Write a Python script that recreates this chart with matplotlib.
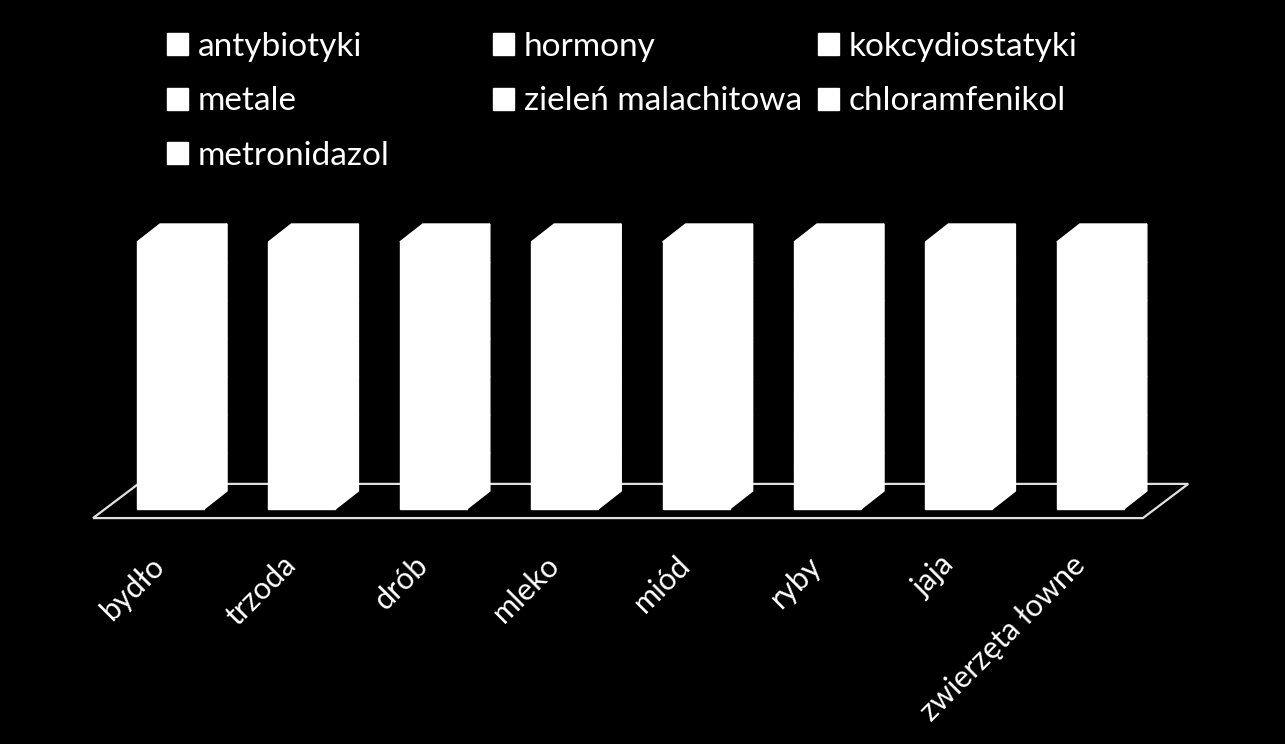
import matplotlib
matplotlib.use("Agg")
import matplotlib.pyplot as plt
import matplotlib.transforms as mtransforms
from matplotlib.patches import Polygon, Patch

categories = ["bydło", "trzoda", "drób", "mleko", "miód", "ryby", "jaja", "zwierzęta łowne"]
series_names = ["antybiotyki", "hormony", "kokcydiostatyki", "metale",
                "zieleń malachitowa", "chloramfenikol", "metronidazol"]
antybiotyki = [1, 1, 1, 1, 1, 1, 1, 1]
hormony = [1, 1, 1, 1, 1, 1, 1, 1]
kokcydiostatyki = [1, 1, 1, 1, 1, 1, 1, 1]
metale = [1, 1, 1, 1, 1, 1, 1, 1]
zielen_malachitowa = [1, 1, 1, 1, 1, 1, 1, 1]
chloramfenikol = [1, 1, 1, 1, 1, 1, 1, 1]
metronidazol = [1, 1, 1, 1, 1, 1, 1, 1]
series_values = [antybiotyki, hormony, kokcydiostatyki, metale,
                 zielen_malachitowa, chloramfenikol, metronidazol]
colors = ["#ffffff"] * 7

FONT = "Lato"
FS = 24
fig = plt.figure(figsize=(12.85, 7.44), dpi=100, facecolor="black")
ax = fig.add_axes([0.05603, 0.27280, 0.8794, 0.4450])
ax.set_facecolor("black")
ax.set_xlim(-0.75, 7.85)
ax.set_ylim(-0.12, 1.12)

n = len(categories)
xs = list(range(n))
totals = [sum(s[i] for s in series_values) for i in range(n)]

width = 0.51
ddx, ddy = 0.175, 0.0674

# floor
fl_x0, fl_x1, fl_y = -0.59, 7.40, -0.034
fdx, fdy = 0.345, 0.128
floor = Polygon([(fl_x0, fl_y), (fl_x1, fl_y), (fl_x1 + fdx, fl_y + fdy), (fl_x0 + fdx, fl_y + fdy)],
                closed=True, facecolor="black", edgecolor="#e0e0e0", lw=1.6, zorder=1)
ax.add_patch(floor)

bottoms = [0.0] * n
for k, (vals, col) in enumerate(zip(series_values, colors)):
    fr = [v / t for v, t in zip(vals, totals)]
    bars = ax.bar(xs, fr, width=width, bottom=bottoms, color=col, edgecolor=col, lw=1.0, zorder=3)
    for i, b in enumerate(bars):
        x0 = b.get_x(); x1 = x0 + b.get_width()
        y0 = b.get_y(); y1 = y0 + b.get_height()
        side = Polygon([(x1, y0), (x1 + ddx, y0 + ddy), (x1 + ddx, y1 + ddy), (x1, y1)],
                       closed=True, facecolor=col, edgecolor=col, lw=1.0, zorder=3)
        ax.add_patch(side)
        if k == len(series_values) - 1:
            top = Polygon([(x0, y1), (x0 + ddx, y1 + ddy), (x1 + ddx, y1 + ddy), (x1, y1)],
                          closed=True, facecolor=col, edgecolor=col, lw=1.0, zorder=3)
            ax.add_patch(top)
    bottoms = [b + f for b, f in zip(bottoms, fr)]

for s in ax.spines.values():
    s.set_visible(False)
ax.set_yticks([])
ax.set_xticks(xs)
ax.set_xticklabels(categories, rotation=45, ha="right", va="top", rotation_mode="anchor",
                   color="white", fontsize=22, fontfamily=FONT)
ax.tick_params(axis="x", length=0, pad=7)
off = mtransforms.ScaledTranslation(-20 / 100, 0, fig.dpi_scale_trans)
for lab in ax.get_xticklabels():
    lab.set_transform(lab.get_transform() + off)

# legend: three columns, row-wise order
handles = [Patch(facecolor=c, edgecolor=c) for c in colors]
col_x = [0.130, 0.3837, 0.6366]
groups = [[0, 3, 6], [1, 4], [2, 5]]
for cx, g in zip(col_x, groups):
    fig.legend([handles[i] for i in g], [series_names[i] for i in g],
               loc="upper left", bbox_to_anchor=(cx, 0.957), frameon=False,
               prop={"family": FONT, "size": FS}, labelcolor="white",
               handlelength=0.63, handleheight=0.63, handletextpad=0.3,
               labelspacing=0.73, borderaxespad=0, borderpad=0)

fig.savefig("out.png", dpi=100, facecolor="black")
